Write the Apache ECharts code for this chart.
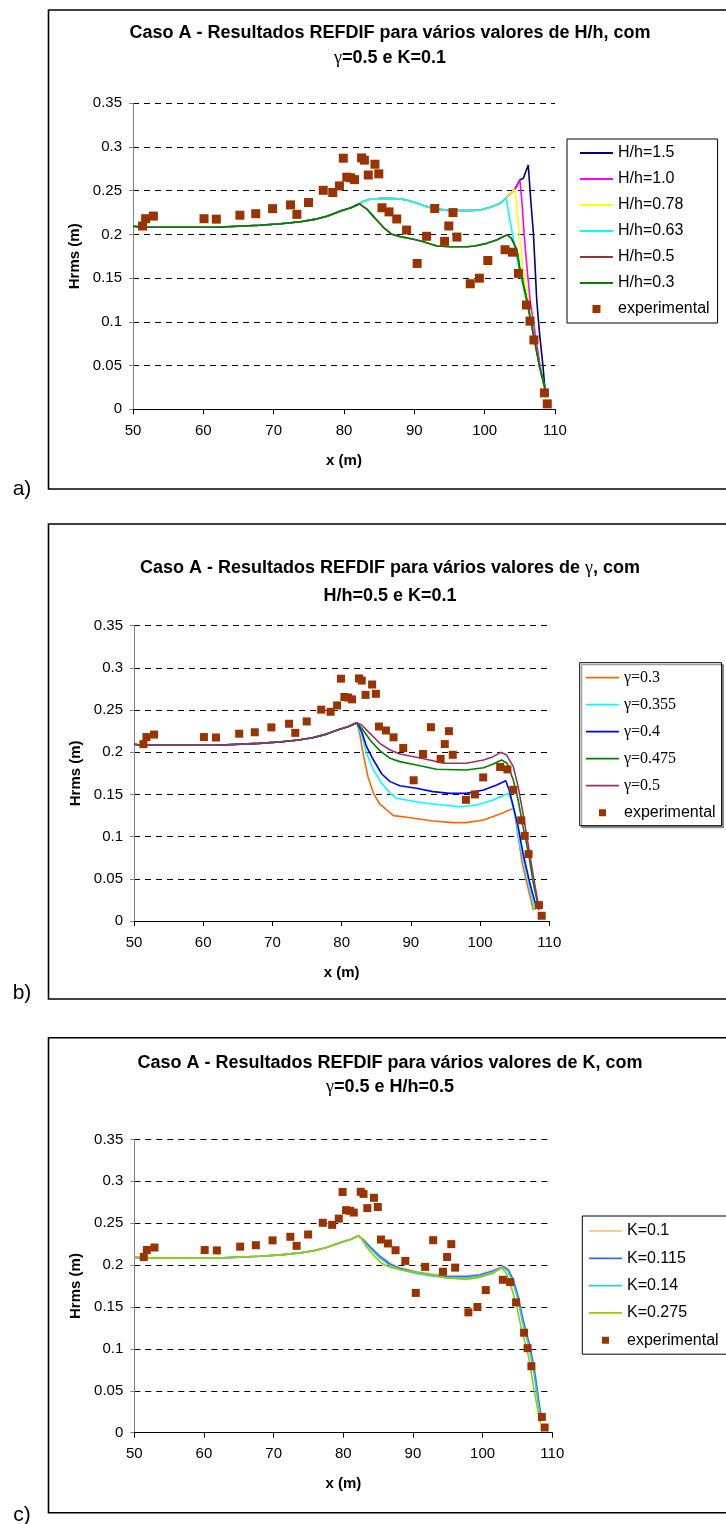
<!DOCTYPE html>
<html>
<head>
<meta charset="utf-8">
<script src="https://cdn.jsdelivr.net/npm/echarts@6/dist/echarts.min.js"></script>
<style>
  html, body { margin: 0; padding: 0; background: #fff; }
  #chart { width: 726px; height: 1524px; }
</style>
</head>
<body>
<div id="chart"></div>
<script>
// ---- Axis ranges (shared by the three panels) ----
const xRange = { min: 50, max: 110, step: 10 };
const yRange = { min: 0, max: 0.35, step: 0.05 };

// ---- Measured wave heights (x in m, Hrms in m) ----
const experimental = [
  [51.36, 0.2096], [51.8, 0.218], [52.9, 0.221], [60.1, 0.218], [61.85, 0.2175],
  [65.2, 0.222], [67.45, 0.2237], [69.85, 0.2295], [72.4, 0.2338], [73.3, 0.223],
  [74.95, 0.2365], [77.05, 0.2505], [78.4, 0.248], [79.35, 0.2555], [79.9, 0.2872],
  [80.4, 0.2655], [80.95, 0.2648], [81.5, 0.2627], [82.5, 0.2875], [82.9, 0.285],
  [83.45, 0.268], [84.4, 0.2803], [84.95, 0.2693], [85.4, 0.2305], [86.4, 0.2258],
  [87.5, 0.2177], [88.9, 0.205], [90.4, 0.1668], [91.75, 0.1979], [92.9, 0.2297],
  [94.3, 0.1921], [94.9, 0.2097], [95.5, 0.225], [96.05, 0.197], [97.95, 0.1436],
  [99.25, 0.15], [100.45, 0.1702], [102.9, 0.1825], [103.95, 0.1797], [104.8, 0.1555],
  [105.95, 0.1193], [106.45, 0.1009], [107.0, 0.0793], [108.5, 0.0188], [108.9, 0.0062]
];

// ---- REFDIF: common shoaling part up to the bar crest (identical in all runs) ----
const approach = [
  [50, 0.2095], [51.2, 0.2083], [61.8, 0.2083], [62.0, 0.2100], [68.0, 0.2105],
  [68.2, 0.2118], [71.0, 0.2122], [73.8, 0.2146], [75.8, 0.2172], [77.7, 0.2212],
  [79.6, 0.2270], [81.0, 0.2305], [82.2, 0.2350]
];

// ---- Panel a): H/h ----
// runs that break on the bar (H/h = 0.3 and 0.5)
const breakingA = [
  [83.3, 0.2287], [84.2, 0.2204], [85.6, 0.2082], [86.8, 0.2002], [88.0, 0.1975],
  [89.9, 0.1944], [91.3, 0.1917], [93.2, 0.1868], [95.1, 0.1860], [97.5, 0.1860],
  [98.6, 0.1868], [100.3, 0.1898], [101.7, 0.1937], [102.9, 0.1986], [103.2, 0.1994],
  [103.8, 0.1956], [104.6, 0.1822], [104.95, 0.1632], [106.0, 0.1250], [106.9, 0.0869],
  [107.8, 0.0488], [108.5, 0.0260], [108.7, 0.0200]
];
// runs that pass the bar without breaking (H/h >= 0.63)
const passingA = [
  [82.6, 0.2375], [83.7, 0.2402], [85.6, 0.2413], [87.8, 0.2409], [88.9, 0.2394],
  [90.4, 0.2356], [91.8, 0.2318], [93.2, 0.2291], [95.1, 0.2272], [97.5, 0.2272],
  [99.4, 0.2280], [100.8, 0.2310], [102.2, 0.2356], [103.05, 0.2417]
];
const shoreA063 = [
  [103.5, 0.2204], [103.95, 0.2013], [104.8, 0.1632], [105.9, 0.1250], [106.9, 0.0869],
  [107.8, 0.0488], [108.4, 0.0300], [108.7, 0.0200]
];
const shoreA078 = [
  [103.6, 0.2462], [104.24, 0.2516], [104.47, 0.2394], [104.95, 0.2013], [105.4, 0.1632],
  [106.2, 0.1250], [106.9, 0.0869], [107.8, 0.0488], [108.3, 0.0297], [108.7, 0.0200]
];
const shoreA100 = [
  [103.6, 0.2462], [104.24, 0.2516], [104.6, 0.2560], [105.0, 0.2623], [105.28, 0.2394],
  [105.6, 0.2013], [106.0, 0.1632], [106.46, 0.1250], [107.17, 0.0869], [107.9, 0.0488],
  [108.35, 0.0297], [108.7, 0.0200]
];
const shoreA150 = [
  [103.6, 0.2462], [104.24, 0.2516], [104.6, 0.2560], [105.0, 0.2623], [105.5, 0.2642],
  [106.2, 0.2794], [106.55, 0.2394], [106.93, 0.2013], [107.17, 0.1632], [107.4, 0.1250],
  [107.8, 0.0869], [108.3, 0.0488], [108.5, 0.0297], [108.7, 0.0200]
];

// ---- Panel b): gamma ----
const shoreB0300 = [
  [82.6, 0.2224], [83.1, 0.1987], [83.8, 0.1711], [84.6, 0.1513], [85.5, 0.1387],
  [86.5, 0.1316], [87.5, 0.1249], [89.4, 0.1229], [93.2, 0.1185], [96.1, 0.1166],
  [98.0, 0.1166], [100.5, 0.1197], [102.9, 0.1268], [104.8, 0.1335], [105.0, 0.1276],
  [105.5, 0.1000], [106.1, 0.0684], [107.0, 0.0367], [107.7, 0.0130]
];
const shoreB0355 = [
  [82.9, 0.2205], [83.6, 0.1987], [84.6, 0.1790], [85.8, 0.1632], [87.0, 0.1513],
  [87.9, 0.1454], [90.8, 0.1414], [93.2, 0.1387], [97.1, 0.1355], [99.5, 0.1375],
  [101.9, 0.1434], [104.1, 0.1513], [104.5, 0.1434], [105.2, 0.1197], [105.8, 0.0881],
  [106.7, 0.0565], [107.7, 0.0209], [108.0, 0.0130]
];
const shoreB0400 = [
  [82.9, 0.2244], [83.6, 0.2066], [84.6, 0.1908], [85.8, 0.1742], [87.0, 0.1652],
  [88.4, 0.1604], [90.8, 0.1573], [93.2, 0.1533], [95.6, 0.1513], [98.0, 0.1513],
  [100.5, 0.1553], [102.4, 0.1612], [103.7, 0.1663], [104.2, 0.1553], [104.8, 0.1355],
  [105.5, 0.1118], [106.2, 0.0802], [107.2, 0.0446], [108.1, 0.0170]
];
const shoreB0475 = [
  [82.9, 0.2284], [84.1, 0.2145], [85.5, 0.2019], [87.0, 0.1928], [88.4, 0.1889],
  [90.8, 0.1849], [93.7, 0.1798], [98.0, 0.1790], [100.5, 0.1817], [101.9, 0.1861],
  [103.1, 0.1908], [103.9, 0.1869], [104.8, 0.1671], [105.5, 0.1434], [106.2, 0.1118],
  [107.0, 0.0802], [107.7, 0.0446], [108.3, 0.0209]
];
const shoreB0500 = [
  [82.9, 0.2323], [84.1, 0.2224], [85.5, 0.2106], [87.0, 0.2027], [88.4, 0.1979],
  [90.8, 0.1940], [93.2, 0.1900], [94.7, 0.1869], [98.0, 0.1869], [100.5, 0.1908],
  [101.9, 0.1948], [103.0, 0.1999], [103.8, 0.1968], [104.8, 0.1829], [105.5, 0.1592],
  [106.2, 0.1276], [107.0, 0.0881], [107.7, 0.0525], [108.3, 0.0249], [108.5, 0.0130]
];

// ---- Panel c): K ----
const shoreC0100 = [
  [82.9, 0.2309], [83.8, 0.2232], [85.3, 0.2112], [86.7, 0.2025], [88.1, 0.1973],
  [90.5, 0.1925], [92.9, 0.1893], [94.8, 0.1874], [97.7, 0.1874], [99.6, 0.1893],
  [101.5, 0.1941], [103.0, 0.1991], [103.7, 0.1951], [104.45, 0.1822], [105.15, 0.1623],
  [105.85, 0.1344], [106.85, 0.1026], [107.55, 0.0708], [108.15, 0.0350], [108.45, 0.0191]
];
const shoreC0115 = [
  [82.9, 0.2299], [83.8, 0.2220], [85.3, 0.2100], [86.7, 0.2013], [88.1, 0.1961],
  [90.5, 0.1913], [92.9, 0.1881], [94.8, 0.1862], [97.7, 0.1862], [99.6, 0.1881],
  [101.5, 0.1929], [103.0, 0.1981], [103.7, 0.1941], [104.4, 0.1822], [105.1, 0.1623],
  [105.8, 0.1344], [106.8, 0.1026], [107.5, 0.0708], [108.1, 0.0350], [108.4, 0.0191]
];
const shoreC0140 = [
  [82.8, 0.2295], [83.7, 0.2210], [85.2, 0.2088], [86.6, 0.2000], [88.0, 0.1948],
  [90.5, 0.1900], [92.9, 0.1868], [94.8, 0.1850], [97.7, 0.1848], [99.6, 0.1868],
  [101.5, 0.1917], [102.9, 0.1972], [103.6, 0.1930], [104.3, 0.1810], [105.0, 0.1610],
  [105.7, 0.1330], [106.7, 0.1010], [107.4, 0.0690], [108.0, 0.0335], [108.35, 0.0180]
];
const shoreC0275 = [
  [82.6, 0.2319], [83.3, 0.2220], [84.3, 0.2120], [85.5, 0.2021], [86.7, 0.1973],
  [89.1, 0.1933], [92.9, 0.1881], [94.8, 0.1846], [97.7, 0.1830], [99.6, 0.1854],
  [101.5, 0.1901], [102.7, 0.1969], [103.4, 0.1901], [104.1, 0.1742], [104.9, 0.1504],
  [105.6, 0.1225], [106.6, 0.0907], [107.3, 0.0549], [108.0, 0.0231], [108.3, 0.0111]
];

// ---- Fonts & colours ----
const SANS = "'Liberation Sans', Arial, sans-serif";
const SERIF = "'Liberation Serif', 'Times New Roman', serif";
const MARKER = '#993300';

// ---- Panel frames (pixel layout) ----
const panels = [
  { grid: { left: 133, top: 103.3, width: 422, height: 306 }, box: [48.5, 10, 479], tag: [22, 489],
    title1: 33.3, title2: 58.3, marker: 9,
    legend: { left: 567, top: 139, padding: [6, 8, 6, 13], itemGap: 10 } },
  { grid: { left: 134, top: 625.7, width: 415.3, height: 295.3 }, box: [48.5, 524, 475], tag: [22, 993],
    title1: 568.3, title2: 596.3, marker: 8,
    legend: { left: 579.7, top: 662.7, padding: [7, 6, 5, 6.3], itemGap: 11 } },
  { grid: { left: 134.3, top: 1139.4, width: 418, height: 293.3 }, box: [48.5, 1037.7, 475], tag: [22, 1515],
    title1: 1063.3, title2: 1087, marker: 8,
    legend: { left: 582.3, top: 1216, padding: [7, 10, 6, 6.7], itemGap: 11.3 } }
];

const titles = [
  ['Caso A - Resultados REFDIF para vários valores de H/h, com', '{g|γ}=0.5 e K=0.1'],
  ['Caso A - Resultados REFDIF para vários valores de {g|γ}, com', 'H/h=0.5 e K=0.1'],
  ['Caso A - Resultados REFDIF para vários valores de K, com', '{g|γ}=0.5 e H/h=0.5']
];
const tags = ['a)', 'b)', 'c)'];

// ---- Curves per panel: [name, points, colour] ----
const curves = [
  [
    ['H/h=1.5', approach.concat(passingA, shoreA150), '#000080'],
    ['H/h=1.0', approach.concat(passingA, shoreA100), '#FF00FF'],
    ['H/h=0.78', approach.concat(passingA, shoreA078), '#FFFF00'],
    ['H/h=0.63', approach.concat(passingA, shoreA063), '#00FFFF'],
    ['H/h=0.5', approach.concat(breakingA), '#993333'],
    ['H/h=0.3', approach.concat(breakingA), '#008000']
  ],
  [
    ['γ=0.3', approach.concat(shoreB0300), '#FF6600'],
    ['γ=0.355', approach.concat(shoreB0355), '#00FFFF'],
    ['γ=0.4', approach.concat(shoreB0400), '#0000FF'],
    ['γ=0.475', approach.concat(shoreB0475), '#008000'],
    ['γ=0.5', approach.concat(shoreB0500), '#993366']
  ],
  [
    ['K=0.1', approach.concat(shoreC0100), '#FFCC99'],
    ['K=0.115', approach.concat(shoreC0115), '#3366FF'],
    ['K=0.14', approach.concat(shoreC0140), '#33CCCC'],
    ['K=0.275', approach.concat(shoreC0275), '#99CC00']
  ]
];

// legend icons drawn inside a 33x8 slot
const SLOT = 'path://M0,0h0.01v0.01h-0.01zM33,8h0.01v0.01h-0.01z';
function squareIcon(size) {
  const x0 = (33 - size) / 2, y0 = (8 - size) / 2;
  return SLOT + 'M' + x0 + ',' + y0 + 'h' + size + 'v' + size + 'h-' + size + 'z';
}
const lineIcon = SLOT + 'M0,3.1h33v1.8h-33z';

const grid = [], xAxis = [], yAxis = [], series = [], legend = [], graphic = [];

panels.forEach(function (p, i) {
  grid.push(Object.assign({ containLabel: false, outerBoundsMode: 'none' }, p.grid));

  xAxis.push({
    gridIndex: i, type: 'value', min: xRange.min, max: xRange.max, interval: xRange.step,
    name: 'x (m)', nameLocation: 'middle', nameGap: 44,
    nameTextStyle: { fontFamily: SANS, fontWeight: 'bold', fontSize: 15, color: '#000' },
    axisLine: { show: true, onZero: false, lineStyle: { color: '#000', width: 1 } },
    axisTick: { show: true, length: 5, lineStyle: { color: '#000', width: 1 } },
    axisLabel: { fontFamily: SANS, fontSize: 15, color: '#000', margin: 14 },
    splitLine: { show: false }
  });

  yAxis.push({
    gridIndex: i, type: 'value', min: yRange.min, max: yRange.max, interval: yRange.step,
    name: 'Hrms (m)', nameLocation: 'middle', nameRotate: 90, nameGap: 51,
    nameTextStyle: { fontFamily: SANS, fontWeight: 'bold', fontSize: 15, color: '#000' },
    axisLine: { show: true, lineStyle: { color: '#808080', width: 1 } },
    axisTick: { show: true, length: 4, lineStyle: { color: '#808080', width: 1 } },
    axisLabel: { fontFamily: SANS, fontSize: 15, color: '#000', margin: 11 },
    splitLine: { show: true, lineStyle: { color: '#000', width: 1, type: [6, 5] } }
  });

  const legendData = [];
  curves[i].forEach(function (c) {
    series.push({
      type: 'line', name: c[0], data: c[1], xAxisIndex: i, yAxisIndex: i,
      symbol: 'none', showSymbol: false, smooth: false,
      lineStyle: { color: c[2], width: 1.6 }, itemStyle: { color: c[2] },
      emphasis: { disabled: true }, z: 2
    });
    const item = { name: c[0], icon: lineIcon, itemStyle: { color: c[2], borderWidth: 0 } };
    if (i === 1) item.textStyle = { fontFamily: SERIF, fontSize: 16 };
    legendData.push(item);
  });

  series.push({
    type: 'scatter', name: 'experimental', data: experimental, xAxisIndex: i, yAxisIndex: i,
    symbol: 'rect', symbolSize: p.marker, itemStyle: { color: MARKER, opacity: 1 },
    emphasis: { disabled: true }, z: 3
  });
  legendData.push({ name: 'experimental', icon: squareIcon(p.marker - 1),
                    itemStyle: { color: MARKER, opacity: 1, borderWidth: 0 } });

  const lg = {
    orient: 'vertical', left: p.legend.left, top: p.legend.top,
    padding: p.legend.padding, itemGap: p.legend.itemGap,
    itemWidth: 33, itemHeight: 8, selectedMode: false,
    backgroundColor: '#fff', borderColor: '#000', borderWidth: 1, borderRadius: 0,
    textStyle: { fontFamily: SANS, fontSize: 16, color: '#000', lineHeight: 16 },
    data: legendData
  };
  if (i === 1) {
    lg.shadowColor = '#888'; lg.shadowOffsetX = 2; lg.shadowOffsetY = 2; lg.shadowBlur = 0;
  }
  legend.push(lg);

  // panel frame (open on the right, where it runs past the page)
  graphic.push({
    type: 'rect', silent: true, z: -1,
    shape: { x: p.box[0], y: p.box[1], width: 740, height: p.box[2] },
    style: { fill: '#fff', stroke: '#000', lineWidth: 1.6 }
  });
  // two-line title
  [titles[i][0], titles[i][1]].forEach(function (t, k) {
    graphic.push({
      type: 'text', silent: true, z: 10,
      x: 390, y: k === 0 ? p.title1 : p.title2,
      style: {
        text: t, fill: '#000', align: 'center', verticalAlign: 'middle',
        fontFamily: SANS, fontWeight: 'bold', fontSize: 18,
        rich: { g: { fontFamily: SERIF, fontWeight: 'normal', fontSize: 18 } }
      }
    });
  });
  // panel tag
  graphic.push({
    type: 'text', silent: true, z: 10, x: p.tag[0], y: p.tag[1],
    style: { text: tags[i], fill: '#000', align: 'center', verticalAlign: 'middle',
             fontFamily: SANS, fontSize: 21 }
  });
});

const chart = echarts.init(document.getElementById('chart'), null, { renderer: 'canvas' });
chart.setOption({
  animation: false,
  backgroundColor: '#fff',
  grid: grid, xAxis: xAxis, yAxis: yAxis,
  legend: legend, series: series, graphic: graphic
});
</script>
</body>
</html>
